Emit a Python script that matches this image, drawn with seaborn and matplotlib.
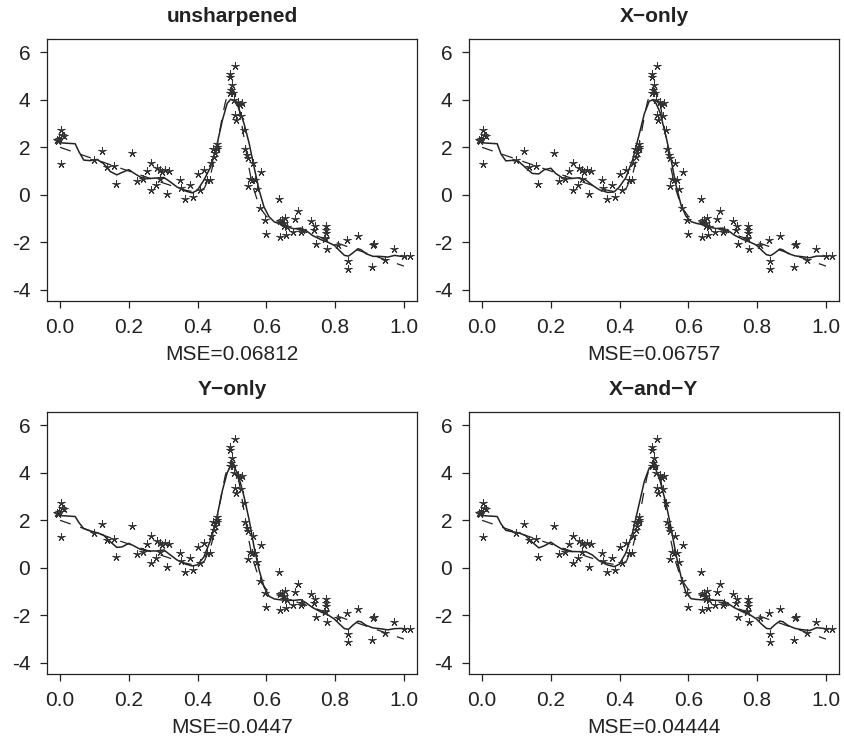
import matplotlib
matplotlib.use("Agg")
import matplotlib.pyplot as plt
import seaborn as sns
import pandas as pd

# observed points (same in every panel)
obs_x = [-0.009, -0.006, -0.004, 0.003, 0.006, 0.010, 0.004,
         0.098, 0.122, 0.137, 0.156, 0.164, 0.208,
         0.224, 0.241, 0.254, 0.263, 0.263, 0.278,
         0.283, 0.290, 0.297, 0.292, 0.306, 0.316, 0.311,
         0.348, 0.352, 0.364, 0.377, 0.386,
         0.400, 0.406, 0.418, 0.428, 0.435, 0.440,
         0.445, 0.447, 0.452, 0.455, 0.457, 0.457,
         0.493, 0.493, 0.508, 0.500, 0.497, 0.494, 0.503, 0.505,
         0.517, 0.530, 0.522, 0.510, 0.525, 0.513, 0.536,
         0.539, 0.544, 0.546, 0.561, 0.583, 0.552, 0.559, 0.566, 0.546, 0.573, 0.581,
         0.595, 0.600, 0.636, 0.640, 0.645, 0.650, 0.655, 0.652, 0.660, 0.639, 0.656,
         0.677, 0.684, 0.693, 0.700, 0.705, 0.729, 0.741, 0.738, 0.743,
         0.773, 0.773, 0.773, 0.771, 0.771, 0.777, 0.808, 0.835, 0.865,
         0.836, 0.836, 0.913, 0.911, 0.907, 0.945, 0.972, 1.001, 1.018]
obs_y = [2.30, 2.27, 2.37, 2.75, 2.51, 2.47, 1.29,
         1.47, 1.85, 1.17, 1.20, 0.47, 1.74,
         0.58, 0.68, 0.99, 1.36, 0.22, 0.40,
         1.15, 1.03, 0.96, 0.68, 1.06, 1.00, 0.05,
         0.61, 0.30, -0.16, 0.40, -0.09,
         0.87, 0.19, 1.06, 0.61, 0.64, 1.32,
         1.95, 1.59, 1.76, 1.91, 2.02, 2.16,
         5.07, 4.95, 5.42, 4.62, 4.41, 4.27, 4.27, 3.99,
         3.90, 3.85, 3.78, 3.35, 3.33, 3.17, 2.72,
         1.91, 1.67, 1.57, 1.32, 0.96, 0.68, 0.64, 0.61, 0.36, 0.26, -0.54,
         -1.08, -1.67, -0.16, -1.10, -1.05, -1.20, -0.97, -1.30, -1.35, -1.78, -1.71,
         -1.57, -1.03, -0.68, -1.57, -1.50, -1.10, -1.33, -1.47, -2.06,
         -1.33, -1.50, -1.62, -1.80, -1.88, -2.29, -2.13, -1.89, -1.72,
         -2.79, -3.11, -2.09, -2.13, -3.04, -2.76, -2.30, -2.57, -2.57]

# true curve (dashed)
true_x = [0.0, 0.1, 0.2, 0.3, 0.36, 0.40, 0.42, 0.44, 0.45, 0.46, 0.47, 0.48, 0.49,
          0.50, 0.51, 0.52, 0.53, 0.54, 0.55, 0.56, 0.58, 0.60, 0.62, 0.7, 0.8, 0.9, 1.0]
true_y = [2.0, 1.5, 1.0, 0.5, 0.21, 0.09, 0.29, 0.98, 1.59, 2.34, 3.14, 3.86, 4.35,
          4.5, 4.25, 3.66, 2.84, 1.94, 1.09, 0.38, -0.51, -0.91, -1.08, -1.5, -2.0, -2.5, -3.0]

# fitted curves (solid)
fit_x = [0.0, 0.044, 0.055, 0.069, 0.088, 0.107, 0.126, 0.146, 0.165, 0.18,
         0.2, 0.214, 0.233, 0.253, 0.282, 0.302, 0.321, 0.34, 0.365, 0.384,
         0.399, 0.418, 0.438, 0.457, 0.472, 0.486, 0.496, 0.506, 0.518, 0.535,
         0.55, 0.564, 0.579, 0.593, 0.608, 0.623, 0.642, 0.661, 0.681, 0.70,
         0.715, 0.734, 0.759, 0.778, 0.798, 0.812, 0.827, 0.839, 0.851, 0.866,
         0.875, 0.89, 0.91, 0.929, 0.953, 0.973, 0.992, 1.007]
fit_unsharp = [2.19, 2.15, 1.81, 1.46, 1.44, 1.49, 1.32, 0.98, 0.84, 0.94,
               1.06, 0.92, 0.75, 0.68, 0.71, 0.73, 0.54, 0.33, 0.16, 0.08,
               0.19, 0.61, 1.18, 2.16, 3.14, 3.85, 4.02, 3.96, 3.71, 3.0,
               2.16, 1.18, 0.19, -0.51, -0.93, -1.14, -1.24, -1.36, -1.43, -1.40,
               -1.50, -1.71, -1.89, -1.99, -2.13, -2.34, -2.55, -2.58, -2.45, -2.27,
               -2.31, -2.48, -2.59, -2.59, -2.62, -2.55, -2.59, -2.62]
fit_xonly = [2.19, 2.15, 1.72, 1.43, 1.45, 1.40, 1.15, 0.90, 0.88, 1.05,
             1.12, 0.90, 0.72, 0.68, 0.72, 0.62, 0.40, 0.22, 0.10, 0.12,
             0.33, 0.72, 1.48, 2.55, 3.42, 3.94, 4.00, 3.85, 3.45, 2.45,
             1.45, 0.40, -0.45, -0.90, -1.13, -1.20, -1.26, -1.36, -1.42, -1.40,
             -1.50, -1.70, -1.88, -1.98, -2.12, -2.32, -2.52, -2.56, -2.45, -2.28,
             -2.32, -2.47, -2.57, -2.60, -2.65, -2.58, -2.58, -2.60]
fit_yonly = [2.20, 2.16, 1.90, 1.65, 1.55, 1.48, 1.38, 1.10, 0.86, 0.88,
             1.03, 0.93, 0.78, 0.71, 0.71, 0.75, 0.54, 0.33, 0.16, 0.08,
             0.12, 0.45, 1.18, 2.20, 3.25, 4.00, 4.29, 4.25, 3.92, 3.00,
             2.01, 0.89, -0.10, -0.80, -1.20, -1.31, -1.35, -1.37, -1.37, -1.34,
             -1.47, -1.67, -1.86, -1.97, -2.16, -2.36, -2.56, -2.59, -2.42, -2.25,
             -2.27, -2.42, -2.53, -2.56, -2.61, -2.56, -2.55, -2.58]
fit_xy = [2.20, 2.16, 1.85, 1.58, 1.52, 1.47, 1.36, 1.08, 0.84, 0.92,
          1.08, 0.94, 0.78, 0.69, 0.68, 0.68, 0.54, 0.30, 0.12, 0.05,
          0.15, 0.62, 1.50, 2.70, 3.65, 4.20, 4.28, 4.12, 3.65, 2.70,
          1.65, 0.55, -0.40, -1.05, -1.30, -1.33, -1.35, -1.36, -1.37, -1.38,
          -1.50, -1.68, -1.86, -1.97, -2.15, -2.36, -2.55, -2.57, -2.40, -2.24,
          -2.27, -2.43, -2.55, -2.60, -2.64, -2.52, -2.55, -2.58]

titles = ["unsharpened", "X\u2212only", "Y\u2212only", "X\u2212and\u2212Y"]
mse_labels = ["MSE=0.06812", "MSE=0.06757", "MSE=0.0447", "MSE=0.04444"]
fits = [fit_unsharp, fit_xonly, fit_yonly, fit_xy]

sns.set_theme(style="white")
plt.rcParams["font.family"] = ["Liberation Sans", "DejaVu Sans"]
plt.rcParams["axes.unicode_minus"] = False

ink = "#222222"
fig = plt.figure(figsize=(8.45, 7.45), dpi=100)
W, H = 845, 745
boxes = [(47, 39), (469, 39), (47, 412), (469, 412)]

obs = pd.DataFrame({"x": obs_x, "y": obs_y})
truth = pd.DataFrame({"x": true_x, "y": true_y})

for i in range(4):
    left, top = boxes[i]
    ax = fig.add_axes([left / W, 1 - (top + 262) / H, 370 / W, 262 / H])
    fitdf = pd.DataFrame({"x": fit_x, "y": fits[i]})

    sns.lineplot(data=truth, x="x", y="y", ax=ax, color=ink, lw=0.9,
                 linestyle=(0, (9, 8)), estimator=None, sort=False)
    sns.lineplot(data=fitdf, x="x", y="y", ax=ax, color=ink, lw=1.1,
                 estimator=None, sort=False)
    sns.scatterplot(data=obs, x="x", y="y", ax=ax, marker=(5, 2, 0), s=28,
                    color="#333333", linewidth=0.75, zorder=3)

    ax.set_xlim(-0.038, 1.038)
    ax.set_ylim(-4.47, 6.56)
    ax.set_xticks([0.0, 0.2, 0.4, 0.6, 0.8, 1.0])
    ax.set_xticklabels(["0.0", "0.2", "0.4", "0.6", "0.8", "1.0"])
    ax.set_yticks([-4, -2, 0, 2, 4, 6])
    ax.set_yticklabels(["-4", "-2", "0", "2", "4", "6"])
    ax.tick_params(axis="both", direction="out", length=5, width=0.9,
                   colors=ink, labelsize=15, pad=7, left=True, bottom=True)
    for sp in ax.spines.values():
        sp.set_color(ink)
        sp.set_linewidth(0.9)
    ax.set_title(titles[i], fontsize=15, fontweight="bold", color=ink, pad=12)
    ax.set_xlabel(mse_labels[i], fontsize=15, color=ink, labelpad=6)
    ax.set_ylabel("")

fig.savefig("out.png", dpi=100)
